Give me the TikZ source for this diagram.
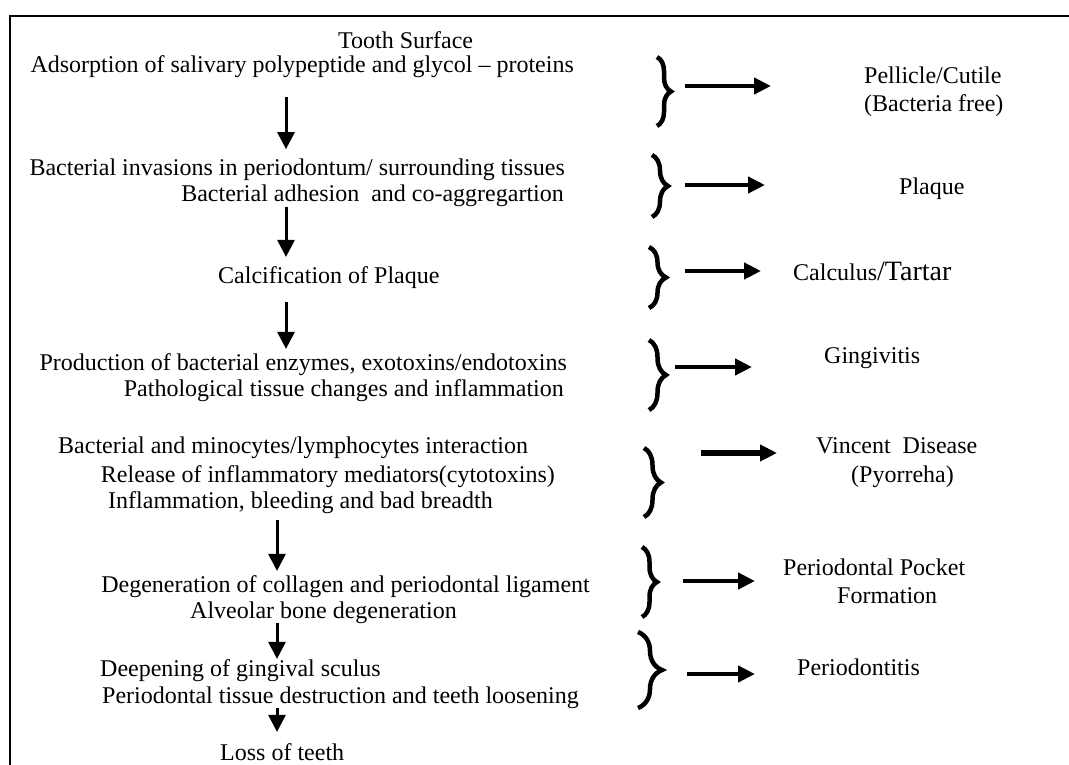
\documentclass[tikz,border=0pt]{standalone}
\usepackage{fontspec}
\setmainfont{Liberation Serif}
\usetikzlibrary{arrows.meta,decorations.pathreplacing}

\begin{document}
\begin{tikzpicture}[x=1pt,y=-1pt,
  every node/.style={inner sep=0pt,anchor=base west,font=\fontsize{24}{27}\selectfont},
  down/.style={line width=3pt,-{Triangle[width=17pt,length=17pt]}},
  res/.style={line width=4.5pt,-{Triangle[width=16pt,length=17pt]}},
  curly/.style={line width=4.5pt,decorate,decoration={brace,amplitude=#1}}]
\useasboundingbox (0,0) rectangle (1069,765);
\draw[line width=2pt] (9.5,765) -- (9.5,16) -- (1069,16);
\coordinate (c1) at (286,0);
\coordinate (c2) at (277,0);

\node (tooth) at (338,49) {Tooth Surface};
\node[anchor=base east] (adsorb) at (574,73) {Adsorption of salivary polypeptide and glycol -- proteins};
\node[anchor=base east] (invade) at (565,176) {Bacterial invasions in periodontum/ surrounding tissues};
\node[anchor=base east] (adhere) at (564,202) {Bacterial adhesion\ \ and co-aggregartion};
\node (calc) at (218,283) {Calcification of Plaque};
\node[anchor=base east] (produce) at (567,370) {Production of bacterial enzymes, exotoxins/endotoxins};
\node[anchor=base east] (patho) at (564,396) {Pathological tissue changes and inflammation};
\node (bactmin) at (58,453) {Bacterial and minocytes/lymphocytes interaction};
\node[anchor=base east] (release) at (555,482) {Release of inflammatory mediators(cytotoxins)};
\node (inflam) at (108,508) {Inflammation, bleeding and bad breadth};
\node[anchor=base east] (degen) at (590,592) {Degeneration of collagen and periodontal ligament};
\node (alveo) at (190,618) {Alveolar bone degeneration};
\node (deepen) at (100,676) {Deepening of gingival sculus};
\node[anchor=base east] (perio) at (579,703) {Periodontal tissue destruction and teeth loosening};
\node (loss) at (220,760) {Loss of teeth};

\draw[down,shorten <=19pt,shorten >=10pt] (adsorb.south -| c1) -- (invade.north -| c1);
\draw[down,shorten >=9pt] (adhere.south -| c1) -- (calc.north -| c1);
\draw[down,shorten <=14pt,shorten >=4pt] (calc.south -| c1) -- (produce.north -| c1);
\draw[down,shorten <=7pt,shorten >=4pt] (inflam.south -| c2) -- (degen.north -| c2);
\draw[down] (alveo.south -| c2) -- (deepen.north -| c2);
\draw[down,shorten >=11pt] (perio.south -| c2) -- (loss.north -| c2);

\node (pell) at (864,84) {Pellicle/Cutile};
\node (bfree) at (864,112) {(Bacteria free)};
\node (plaque) at (899,195) {Plaque};
\node (calcul) at (793,280) {Calculus{\fontsize{28}{30}\selectfont/Tartar}};
\node (gingiv) at (824,363) {Gingivitis};
\node (vinc) at (816,453) {Vincent\ \ Disease};
\node (pyor) at (851,482) {(Pyorreha)};
\node (pocket) at (783,575) {Periodontal Pocket};
\node (form) at (837,603) {Formation};
\node (perdis) at (797,675) {Periodontitis};

\draw[curly=14pt] (657,57) -- (657,126);
\draw[curly=16pt] (652,155) -- (652,217);
\draw[curly=17pt] (649,247) -- (649,308);
\draw[curly=17pt] (649,340) -- (649,410);
\draw[curly=17pt] (644,448) -- (644,517);
\draw[curly=15pt] (642,547) -- (642,617);
\draw[curly=24pt] (638,632) -- (638,708);

\coordinate (r1) at (685,86);
\coordinate (r2) at (685,185);
\coordinate (r3) at (685,271);
\coordinate (r4) at (675,367);
\coordinate (r5) at (701,453);
\coordinate (r6) at (683,581);
\coordinate (r7) at (687,674);
\draw[res,shorten >=93pt] (r1) -- (r1 -| pell.west);
\draw[res,shorten >=134pt] (r2) -- (r2 -| plaque.west);
\draw[res,shorten >=32pt] (r3) -- (r3 -| calcul.west);
\draw[res,shorten >=72pt] (r4) -- (r4 -| gingiv.west);
\draw[res,line width=6.5pt,shorten >=39pt] (r5) -- (r5 -| vinc.west);
\draw[res,shorten >=28pt] (r6) -- (r6 -| pocket.west);
\draw[res,shorten >=42pt] (r7) -- (r7 -| perdis.west);
\end{tikzpicture}
\end{document}
